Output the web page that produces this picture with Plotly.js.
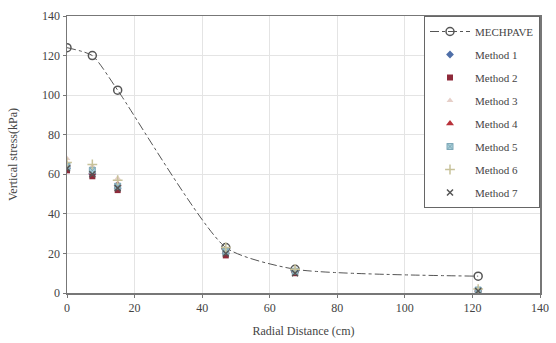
<!DOCTYPE html>
<html>
<head>
<meta charset="utf-8">
<script src="https://cdn.plot.ly/plotly-3.0.1.min.js"></script>
<style>html,body{margin:0;padding:0;background:#fff;}#chart{width:556px;height:343px;}</style>
</head>
<body>
<div id="chart"></div>
<script>
var radial = [0, 7.5, 15, 47, 67.5, 121.7];
var mechpave = [124, 120, 102.5, 23, 12, 8.5];
var method1 = [63, 60, 53, 20, 11, 1.5];
var method2 = [62, 59, 52, 19, 10, 1];
var method3 = [68, 64, 58, 22, 12, 2];
var method4 = [65, 61, 55, 21, 11, 1.5];
var method5 = [64, 62, 54, 21, 11, 1.5];
var method6 = [66, 65, 57, 23, 12, 2];
var method7 = [63, 60, 53, 20, 10, 1];
var xTicks = [0, 20, 40, 60, 80, 100, 120, 140];
var yTicks = [0, 20, 40, 60, 80, 100, 120, 140];

var serif = "Liberation Serif, Times New Roman, serif";
var traces = [
  {x: radial, y: mechpave, name: "MECHPAVE", legendgroup: "g0", mode: "lines+markers", type: "scatter",
   line: {color: "#555", width: 1, dash: "dashdot", shape: "spline", smoothing: 0.6},
   marker: {symbol: "circle-open", size: 8, color: "#555", line: {width: 1.5}}},
  {x: radial, y: method1, name: "Method 1", legendgroup: "g1", mode: "markers", type: "scatter", marker: {symbol: "diamond", size: 6, color: "#4f6fa8"}},
  {x: radial, y: method2, name: "Method 2", legendgroup: "g2", mode: "markers", type: "scatter", marker: {symbol: "square", size: 6, color: "#8e2a3a"}},
  {x: radial, y: method3, name: "Method 3", legendgroup: "g3", mode: "markers", type: "scatter", marker: {symbol: "triangle-up", size: 6, color: "#e6cfc8"}},
  {x: radial, y: method4, name: "Method 4", legendgroup: "g4", mode: "markers", type: "scatter", marker: {symbol: "triangle-up", size: 7, color: "#b8313a"}},
  {x: radial, y: method5, name: "Method 5", legendgroup: "g5", mode: "markers", type: "scatter", marker: {symbol: "square-x", size: 6, color: "#a8cfd8", line: {color: "#7fa8b8", width: 1}}},
  {x: radial, y: method6, name: "Method 6", legendgroup: "g6", mode: "markers", type: "scatter", marker: {symbol: "cross-thin-open", size: 7, color: "#c8c29a", line: {color: "#b5ae80", width: 1.5}}},
  {x: radial, y: method7, name: "Method 7", legendgroup: "g7", mode: "markers", type: "scatter", marker: {symbol: "x-thin-open", size: 6, color: "#555", line: {color: "#555", width: 1.5}}}
];

var layout = {
  width: 556, height: 343,
  margin: {l: 67, r: 16, t: 16, b: 50},
  paper_bgcolor: "#fff", plot_bgcolor: "#fff",
  font: {family: serif, size: 12, color: "#444"},
  showlegend: true,
  legend: {x: 1, y: 1, xanchor: "right", yanchor: "top", bgcolor: "#fff",
           bordercolor: "#666", borderwidth: 1, font: {family: serif, size: 11, color: "#444"},
           tracegroupgap: 4, itemwidth: 40},
  xaxis: {range: [0, 140], tickvals: xTicks, ticktext: xTicks.map(String),
          showgrid: true, gridcolor: "#e4e4e4", zeroline: false,
          showline: true, linecolor: "#777", linewidth: 1.5, mirror: true,
          ticks: "outside", ticklen: 3, tickcolor: "#777",
          title: {text: "Radial Distance (cm)", font: {family: serif, size: 12, color: "#444"}, standoff: 12}},
  yaxis: {range: [0, 140], tickvals: yTicks, ticktext: yTicks.map(String),
          showgrid: true, gridcolor: "#e4e4e4", zeroline: false,
          showline: true, linecolor: "#777", linewidth: 1.5, mirror: true,
          ticks: "outside", ticklen: 3, tickcolor: "#777",
          title: {text: "Vertical stress(kPa)", font: {family: serif, size: 12, color: "#444"}, standoff: 22}}
};
Plotly.newPlot("chart", traces, layout, {displayModeBar: false, staticPlot: true});
</script>
</body>
</html>
